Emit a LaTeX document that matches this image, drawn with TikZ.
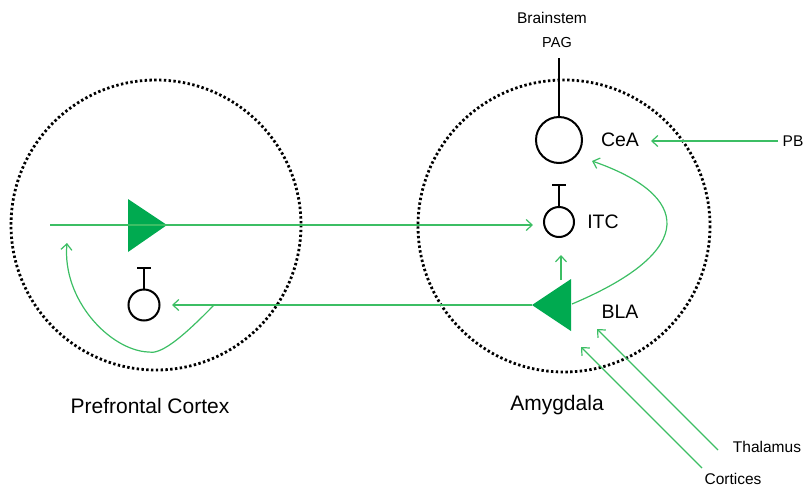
\documentclass[tikz,border=0pt]{standalone}
\usepackage{fontspec}
\setmainfont{Liberation Sans}
\usetikzlibrary{arrows.meta}
\definecolor{gline}{RGB}{60,190,100}
\definecolor{gfill}{RGB}{0,170,80}
\begin{document}
\begin{tikzpicture}[x=1pt,y=-1pt,
  region/.style={draw=black,line width=2.8pt,dash pattern=on 2.4pt off 2.4pt,line cap=butt},
  soma/.style={draw=black,line width=2pt},
  gconn/.style={draw=gline,line width=1.2pt,-{Straight Barb[length=6pt,width=11pt,line width=1.2pt]}},
  gplain/.style={draw=gline,line width=1.2pt},
  pyr/.style={fill=gfill,draw=none},
  lbl/.style={inner sep=0pt,font=\fontsize{19.5}{22}\selectfont},
  big/.style={inner sep=0pt,font=\fontsize{21}{24}\selectfont},
  small/.style={inner sep=0pt,font=\fontsize{15.5}{18}\selectfont}]
\useasboundingbox (0,0) rectangle (807,491);
% regions
\draw[region] (156,225) circle (145);
\draw[region] (564,226) circle (146);
% left pyramidal (PFC)
\coordinate (pfcin) at (50,225);
\fill[pyr] (128,199) -- (167,225) -- (128,252) -- cycle;
\coordinate (pfctip) at (167,225);
% left inhibitory
\node[soma,circle,minimum size=31pt,inner sep=0pt] (pfcinh) at (144,305) {};
\coordinate (pfcT) at (144,268);
\draw[soma] (pfcinh.north) -- (pfcT);
\draw[soma] (137,268) -- (151,268);
% CeA
\node[soma,circle,minimum size=46pt,inner sep=0pt] (cea) at (559,140) {};
\coordinate (pagend) at (559,58);
\draw[soma] (cea.north) -- (pagend);
% ITC
\node[soma,circle,minimum size=30pt,inner sep=0pt] (itc) at (559,222) {};
\coordinate (itcT) at (559,185);
\draw[soma] (itc.north) -- (itcT);
\draw[soma] (552,185) -- (566,185);
% BLA pyramidal
\fill[pyr] (571,279) -- (532,305) -- (571,331) -- cycle;
\coordinate (blatip) at (532,305);
\coordinate (blaright) at (572,304);
\coordinate (blatop) at (561,280);
% texts
\node[small] (brainstem) at (552,18) {Brainstem};
\node[small,font=\fontsize{14.5}{17}\selectfont] (pag) at (557,43) {PAG};
\node[lbl] (cealbl) at (620,140) {CeA};
\node[lbl] (itclbl) at (603,222) {ITC};
\node[lbl] (blalbl) at (620,312) {BLA};
\node[small] (pb) at (793,141) {PB};
\node[small] (thal) at (767,447) {Thalamus};
\node[small] (cort) at (733,479) {Cortices};
\node[big] (amy) at (557,405) {Amygdala};
\node[big] (pfc) at (150,406) {Prefrontal Cortex};
% connectors
\draw[gplain] (pfcin) -- (pfctip);
\draw[gconn] (pfctip) -- (533,225);
\draw[gconn] (blatip) -- (172,305);
\draw[gconn] (214,305) .. controls (180,340) and (160,355) .. (148,352) .. controls (110,350) and (62,300) .. (67,243);
\draw[gconn] (blatop) -- (561,255);
\draw[gconn] (blaright) .. controls (700,250) and (690,195) .. (592,161);
\draw[gconn] (778,141) -- (651,141);
\draw[gconn] (718,450) -- (597,329);
\draw[gconn] (702,468) -- (581,347);
\end{tikzpicture}
\end{document}
